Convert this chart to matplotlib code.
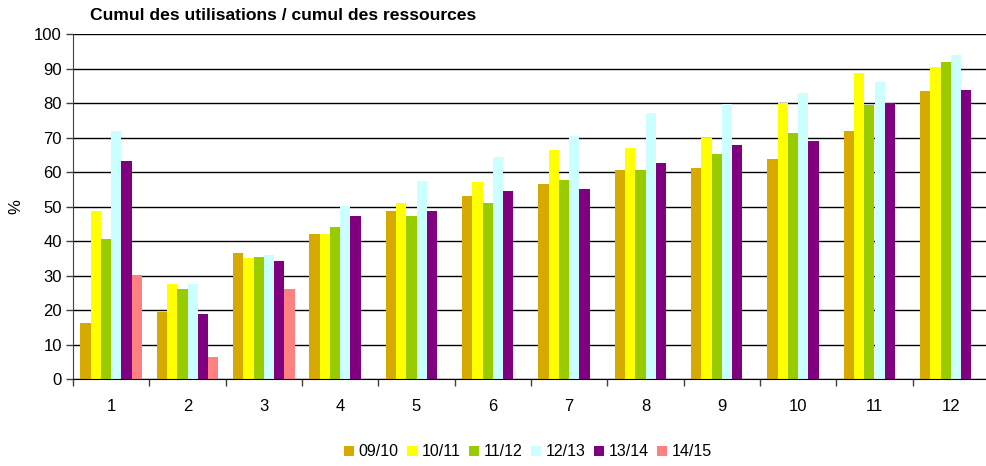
import numpy as np
import matplotlib
matplotlib.use("Agg")
import matplotlib.pyplot as plt

plt.rcParams['font.family'] = ['Liberation Sans', 'DejaVu Sans']

categories = ['1', '2', '3', '4', '5', '6', '7', '8', '9', '10', '11', '12']
series_names = ['09/10', '10/11', '11/12', '12/13', '13/14', '14/15']
s0910 = [16.3, 19.5, 36.7, 42.2, 48.6, 53.2, 56.5, 60.6, 61.1, 63.7, 71.8, 83.6]
s1011 = [48.6, 27.7, 35.2, 42.2, 51.2, 57.0, 66.3, 66.9, 69.8, 79.9, 88.8, 90.3]
s1112 = [40.5, 26.2, 35.5, 44.2, 47.4, 51.2, 57.7, 60.6, 65.2, 71.2, 79.3, 92.0]
s1213 = [71.8, 27.7, 36.1, 50.3, 57.3, 64.3, 70.4, 77.0, 79.7, 83.0, 86.2, 94.0]
s1314 = [63.1, 19.0, 34.4, 47.4, 48.6, 54.4, 55.1, 62.6, 67.8, 68.9, 79.9, 83.9]
s1415 = [30.3, 6.5, 26.2, None, None, None, None, None, None, None, None, None]
colors = ['#D6AA00', '#FFFF00', '#99CC00', '#CCFFFF', '#800080', '#FF8080']

series = [s0910, s1011, s1112, s1213, s1314, s1415]

fig = plt.figure(figsize=(9.86, 4.66), dpi=100)
ax = fig.add_axes([73/986, 1 - 379.3/466, 916/986, (379.3 - 34)/466])

n = len(series)
bw = 0.135
x = np.arange(len(categories))
for i, (name, vals, c) in enumerate(zip(series_names, series, colors)):
    v = np.array([np.nan if a is None else a for a in vals], dtype=float)
    offs = (i - (n - 1) / 2) * bw
    ax.bar(x + offs, v, width=bw, color=c, label=name, linewidth=0, zorder=3)

ax.set_xlim(-0.5, len(categories) - 0.5)
ax.set_ylim(0, 100)
ax.set_yticks(np.arange(0, 101, 10))
ax.set_xticks(x)
ax.set_xticklabels(categories)
ax.set_xticks(np.arange(-0.5, len(categories), 1), minor=True)
ax.tick_params(axis='x', which='major', length=0, pad=14, labelsize=12)
ax.tick_params(axis='x', which='minor', length=5, width=1, color='#404040', direction='out')
ax.tick_params(axis='y', length=5, width=1, color='#404040', labelsize=12, pad=3)

ax.yaxis.grid(True, color='black', linewidth=1.0, zorder=0)
ax.set_axisbelow(True)
for s in ['top', 'right']:
    ax.spines[s].set_visible(False)
ax.spines['left'].set_color('#404040')
ax.spines['bottom'].set_color('black')
ax.spines['bottom'].set_zorder(4)

ax.set_ylabel('%', fontsize=12, labelpad=8)

fig.text(90/986, 1 - 15/466, 'Cumul des utilisations / cumul des ressources',
         fontsize=12.6, fontweight='bold', ha='left', va='center')

leg = fig.legend(loc='center', bbox_to_anchor=(528/986, 1 - 452/466), ncol=6,
                 frameon=False, fontsize=11.5, handlelength=0.6, handleheight=0.6,
                 handletextpad=0.3, columnspacing=0.55, borderaxespad=0)

fig.savefig('out.png', dpi=100)
